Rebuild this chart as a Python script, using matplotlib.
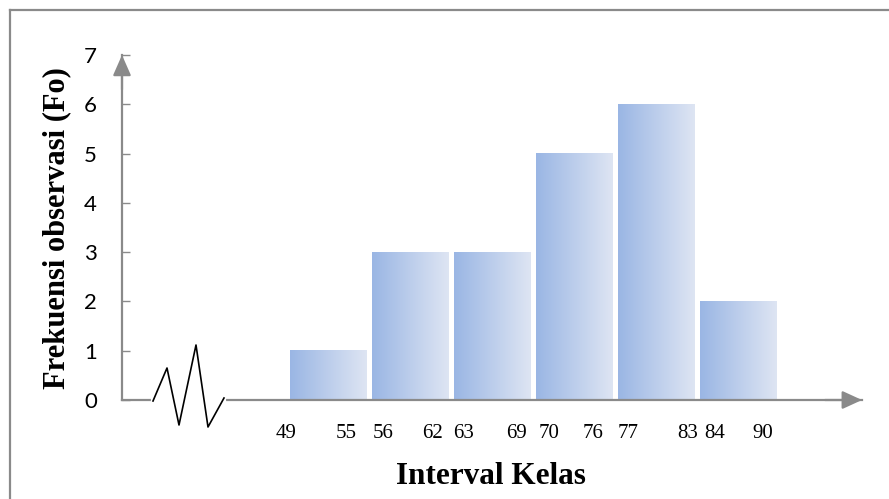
import numpy as np
import matplotlib
matplotlib.use("Agg")
import matplotlib.pyplot as plt
import matplotlib.transforms as mtransforms
from matplotlib.lines import Line2D

# ---- data ----
class_lower = [49, 56, 63, 70, 77, 84]
class_upper = [55, 62, 69, 76, 83, 90]
freq = [1, 3, 3, 5, 6, 2]
y_ticks = [0, 1, 2, 3, 4, 5, 6, 7]
x_title = "Interval Kelas"
y_title = "Frekuensi observasi (Fo)"

# ---- layout / style ----
W, H = 889, 499
fig = plt.figure(figsize=(W / 100, H / 100), dpi=100)
ax_left, ax_right, ax_bottom, ax_top = 122, 862, 400, 55  # pixels
ax = fig.add_axes([ax_left / W, 1 - ax_bottom / H,
                   (ax_right - ax_left) / W, (ax_bottom - ax_top) / H])

grey = "#8a8a8a"
bar_w = 0.927
c_left = np.array([154, 182, 228]) / 255
c_right = np.array([222, 229, 243]) / 255
grad = np.linspace(0, 1, 256)[:, None] * (c_right - c_left) + c_left
grad = grad[None, :, :]

x = np.arange(len(freq))
for xi, h in zip(x, freq):
    ax.imshow(grad, extent=(xi - bar_w / 2, xi + bar_w / 2, 0, h),
              aspect="auto", interpolation="bilinear", zorder=2)

ax.set_xlim(-2.512, 6.512)
ax.set_ylim(0, 7)

for s in ["top", "right"]:
    ax.spines[s].set_visible(False)
for s in ["left", "bottom"]:
    ax.spines[s].set_color(grey)
    ax.spines[s].set_linewidth(1.6)

ax.set_xticks([])
ax.set_yticks(y_ticks)
ax.set_yticklabels([str(v) for v in y_ticks], fontfamily="Lato", fontsize=16)
ax.tick_params(axis="y", direction="in", length=6, width=1.0, color=grey, pad=18)

# arrowheads
ax.annotate("", xy=(0, 1), xycoords="axes fraction", xytext=(0, 0.9),
            arrowprops=dict(arrowstyle="-|>,head_length=1.25,head_width=0.55",
                            color=grey, lw=1.6, shrinkA=0, shrinkB=0, mutation_scale=10),
            annotation_clip=False)
ax.annotate("", xy=(1, 0), xycoords="axes fraction", xytext=(0.95, 0),
            arrowprops=dict(arrowstyle="-|>,head_length=1.2,head_width=0.55",
                            color=grey, lw=1.6, shrinkA=0, shrinkB=0, mutation_scale=10),
            annotation_clip=False)

# x tick labels (class bounds) near bar edges
low_nudge = [-42, -27, -28, -25, -28, -23]
up_nudge = [18, 23, 24, 19, 32, 25]
xt = ax.get_xaxis_transform()
lab_y = -(433 - ax_bottom) / (ax_bottom - ax_top)
for xi, lo, up, ln, un in zip(x, class_lower, class_upper, low_nudge, up_nudge):
    ax.text(xi + ln / 82, lab_y, str(lo), transform=xt, ha="center", va="center",
            fontfamily="Liberation Serif", fontsize=15)
    ax.text(xi + un / 82, lab_y, str(up), transform=xt, ha="center", va="center",
            fontfamily="Liberation Serif", fontsize=15)

# axis titles
fig.text(491 / W, 1 - 477 / H, x_title, ha="center", va="center",
         fontfamily="Liberation Serif", fontweight="bold", fontsize=22.5)
fig.text(57 / W, 1 - 228 / H, y_title, ha="center", va="center", rotation=90,
         fontfamily="Liberation Serif", fontweight="bold", fontsize=22)

# axis break symbol (decoration) in pixel offsets from axes origin
pix = mtransforms.Affine2D().scale(1 / 100) + fig.dpi_scale_trans
ox, oy = ax_left, H - ax_bottom
fig.add_artist(Line2D([ox + 31, ox + 102], [oy, oy], color="white", lw=3,
                      transform=pix, zorder=5))
zx = [31, 45, 57, 74, 86, 102]
zy = [-1, 32, -25, 55, -27, 2]
fig.add_artist(Line2D([ox + v for v in zx], [oy + v for v in zy], color="black",
                      lw=1.2, transform=pix, zorder=6))

# outer frame
fig.add_artist(Line2D([10, 10], [0, H - 10], color=grey, lw=1.6, transform=pix))
fig.add_artist(Line2D([10, W], [H - 10, H - 10], color=grey, lw=1.6, transform=pix))

fig.savefig("out.png", dpi=100)
